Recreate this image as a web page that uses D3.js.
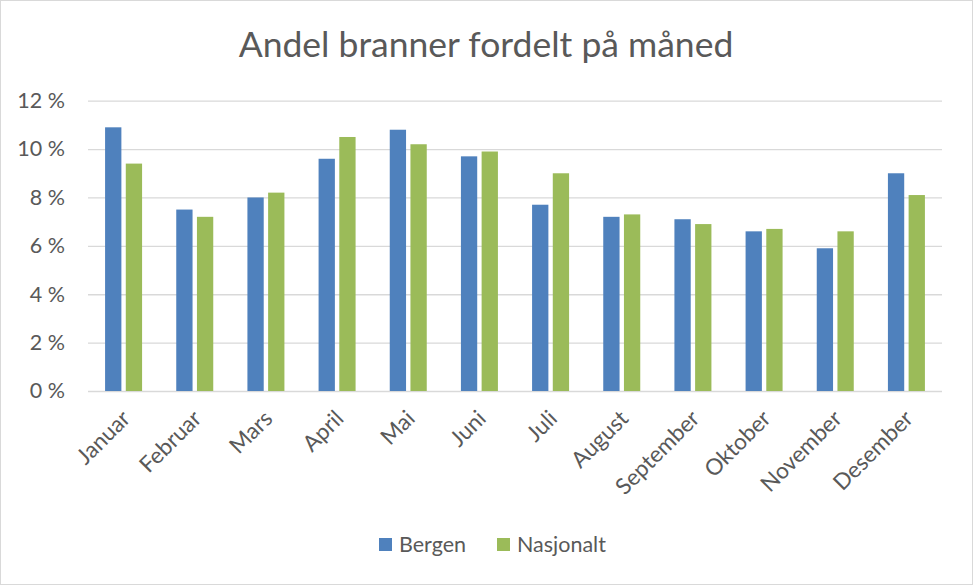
<!DOCTYPE html>
<html>
<head>
<meta charset="utf-8">
<script src="https://cdn.jsdelivr.net/npm/d3@7"></script>
<style>
  body { margin: 0; background: #fff; }
  svg { display: block; font-family: Lato, "Open Sans", sans-serif; }
</style>
</head>
<body>
<svg id="chart" width="973" height="585"></svg>
<script>
// month names and shares (percent)
var months = ["Januar", "Februar", "Mars", "April", "Mai", "Juni", "Juli",
              "August", "September", "Oktober", "November", "Desember"];
var bergen    = [10.9, 7.5, 8.0, 9.6, 10.8, 9.7, 7.7, 7.2, 7.1, 6.6, 5.9, 9.0];
var nasjonalt = [9.4, 7.2, 8.2, 10.5, 10.2, 9.9, 9.0, 7.3, 6.9, 6.7, 6.6, 8.1];
var seriesNames = ["Bergen", "Nasjonalt"];
var yTicks = [0, 2, 4, 6, 8, 10, 12];

var colors = ["#4f81bd", "#9bbb59"];
var textColor = "#595959";

var svg = d3.select("#chart");

// outer frame
svg.append("rect")
    .attr("x", 0.5).attr("y", 0.5)
    .attr("width", 972).attr("height", 584)
    .attr("fill", "#fff")
    .attr("stroke", "#d9d9d9");

// plot area (window.top is taken, so own names)
var plotLeft = 88, plotRight = 942, plotTop = 100.7, plotBottom = 391;

var x = d3.scaleBand()
    .domain(months)
    .range([plotLeft, plotRight]);

var y = d3.scaleLinear()
    .domain([0, 12])
    .range([plotBottom, plotTop]);

// title
svg.append("text")
    .attr("x", 486).attr("y", 57)
    .attr("text-anchor", "middle")
    .attr("font-size", 35.5)
    .attr("fill", textColor)
    .text("Andel branner fordelt på måned");

// gridlines + y labels
var yAxis = d3.axisLeft(y)
    .tickValues(yTicks)
    .tickSize(-(plotRight - plotLeft))
    .tickFormat(function(d){ return d + " %"; });

var gy = svg.append("g")
    .attr("transform", "translate(" + plotLeft + ",0)")
    .call(yAxis);
gy.select(".domain").remove();
gy.selectAll(".tick line")
    .attr("stroke", "#d9d9d9")
    .attr("stroke-width", 1.3);
gy.selectAll(".tick text")
    .attr("x", -23)
    .attr("fill", textColor)
    .attr("font-size", 21.5)
    .attr("font-family", "Lato, sans-serif");

// bars
var barW = 16.3, barGap = 4.4;
var data = [bergen, nasjonalt];
data.forEach(function(vals, si){
    svg.append("g")
        .selectAll("rect")
        .data(vals)
        .enter()
        .append("rect")
        .attr("x", function(d, i){
            var c = x(months[i]) + x.bandwidth() / 2;
            return si == 0 ? c - barGap / 2 - barW : c + barGap / 2;
        })
        .attr("y", function(d){ return y(d); })
        .attr("width", barW)
        .attr("height", function(d){ return y(0) - y(d); })
        .attr("fill", colors[si]);
});

// x labels, rotated
var xAxis = d3.axisBottom(x).tickSize(0);
var gx = svg.append("g")
    .attr("transform", "translate(0," + plotBottom + ")")
    .call(xAxis);
gx.select(".domain").remove();
gx.selectAll(".tick text")
    .attr("fill", textColor)
    .attr("font-size", 22.5)
    .attr("font-family", "Lato, sans-serif")
    .attr("text-anchor", "end")
    .attr("y", 0)
    .attr("dy", 0)
    .attr("transform", "translate(8,29) rotate(-45)");

// legend
var legend = svg.append("g");
var legX = [379, 497];
seriesNames.forEach(function(name, i){
    legend.append("rect")
        .attr("x", legX[i]).attr("y", 538)
        .attr("width", 13).attr("height", 13)
        .attr("fill", colors[i]);
    legend.append("text")
        .attr("x", legX[i] + 20).attr("y", 552)
        .attr("font-size", 21.5)
        .attr("fill", textColor)
        .text(name);
});
</script>
</body>
</html>
